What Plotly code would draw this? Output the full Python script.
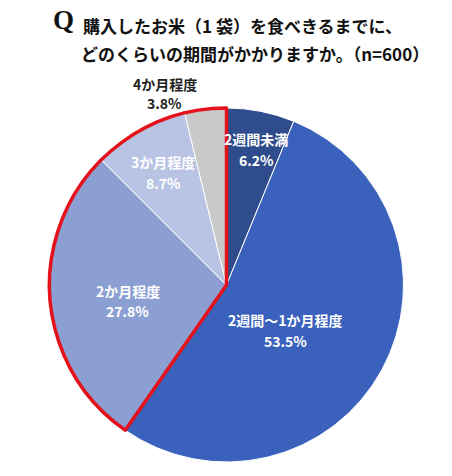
import math

import plotly.graph_objects as go

# answer categories and shares (%)
LABELS = ["2週間未満", "2週間～1か月程度", "2か月程度", "3か月程度", "4か月程度"]
SHARES = [6.2, 53.5, 27.8, 8.7, 3.8]
COLORS = ["#2F4C8C", "#3A61BC", "#8C9FD3", "#B9C3E3", "#C9C9C9"]

# slices 2か月程度 .. 4か月程度 are framed in red
HIGHLIGHT = [False, False, True, True, True]

TITLE_1 = "購入したお米（1 袋）を食べきるまでに、"
TITLE_2 = "どのくらいの期間がかかりますか。（n=600）"

W, H = 452, 476
CX, CY, R = 226.5, 285, 177  # pie centre / radius in px (top-left origin)

# label placement: radius fraction + small nudges
LABEL_R = [0.78, 0.42, 0.56, 0.73, 1.08]
LABEL_DX = [3, -6, 0, 0, -39]
LABEL_DY = [0, 10, 7, 0, -2]
LABEL_GAP = [21, 21, 20, 21, 19]
LABEL_COL = ["white", "white", "white", "white", "#222222"]

FONT = "Noto Sans CJK JP"


def paper(xpx, ypx):
    return xpx / W, 1 - ypx / H


fig = go.Figure()

dom = dict(x=[(CX - R) / W, (CX + R) / W], y=[(H - CY - R) / H, (H - CY + R) / H])

fig.add_trace(go.Pie(
    labels=LABELS,
    values=SHARES,
    sort=False,
    direction="clockwise",
    rotation=0,
    marker=dict(colors=COLORS, line=dict(color="white", width=1)),
    textinfo="none",
    hoverinfo="label+percent",
    domain=dom,
    showlegend=False,
))

# red frame around the highlighted group
grp_in = sum(v for v, h in zip(SHARES, HIGHLIGHT) if not h)
grp_hl = sum(v for v, h in zip(SHARES, HIGHLIGHT) if h)
fig.add_trace(go.Pie(
    labels=["other", "group"],
    values=[grp_in, grp_hl],
    sort=False,
    direction="clockwise",
    rotation=0,
    marker=dict(colors=["rgba(0,0,0,0)", "rgba(0,0,0,0)"],
                line=dict(color="#E3121B", width=[0, 3.5])),
    textinfo="none",
    hoverinfo="skip",
    domain=dom,
    showlegend=False,
))

# slice labels (name line + percent line)
total = sum(SHARES)
cum = 0
for i, (lab, v) in enumerate(zip(LABELS, SHARES)):
    mid = (cum + v / 2) / total * 2 * math.pi
    cum += v
    lx = CX + math.sin(mid) * R * LABEL_R[i] + LABEL_DX[i]
    ly = CY - math.cos(mid) * R * LABEL_R[i] + LABEL_DY[i]
    for txt, off in ((lab, -LABEL_GAP[i] / 2), (f"{v:.1f}%", LABEL_GAP[i] / 2)):
        x, y = paper(lx, ly + off)
        fig.add_annotation(
            x=x, y=y, xref="paper", yref="paper",
            xanchor="center", yanchor="middle",
            text=f"<b>{txt}</b>",
            showarrow=False,
            font=dict(family=FONT, size=14, color=LABEL_COL[i]),
        )

# title
for txt, xpx, ypx, fam, size in (
    ("Q", 51, 20, "Liberation Serif", 27),
    (TITLE_1, 81, 25, FONT, 17),
    (TITLE_2, 79, 53, FONT, 17),
):
    x, y = paper(xpx, ypx)
    fig.add_annotation(
        x=x, y=y, xref="paper", yref="paper",
        xanchor="left", yanchor="middle", showarrow=False,
        text=f"<b>{txt}</b>",
        font=dict(family=fam, size=size, color="#111111"),
    )

fig.update_layout(
    width=W, height=H,
    margin=dict(l=0, r=0, t=0, b=0),
    paper_bgcolor="white",
    plot_bgcolor="white",
)

fig.write_html("out.html", config={"displayModeBar": False},
               post_script="document.body.style.margin='0';")
